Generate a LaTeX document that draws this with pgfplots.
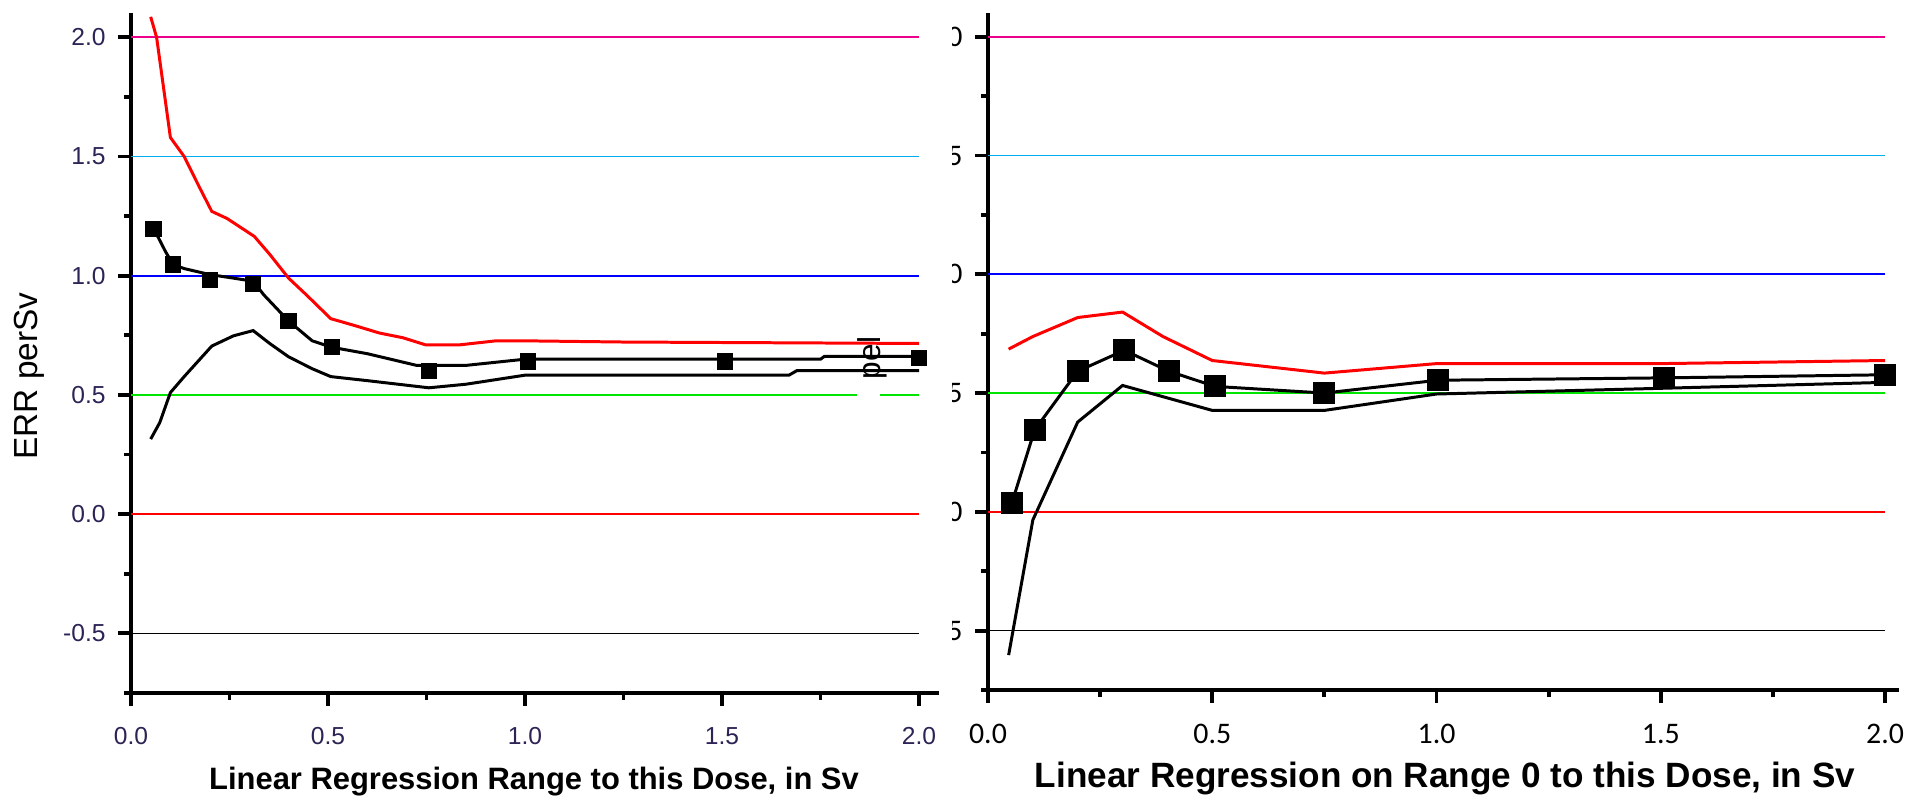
\documentclass[border=0pt]{standalone}
\usepackage{fontspec}
\setmainfont{Liberation Sans}
\newfontfamily\carlito{Carlito}
\usepackage{pgfplots}
\pgfplotsset{compat=1.18}
\definecolor{ticklab}{RGB}{45,35,85}
\definecolor{refgreen}{RGB}{0,230,0}
\pgfplotsset{
  panel/.style={
    scale only axis,
    axis x line*=bottom, axis y line*=left,
    axis line style={line width=1.1pt,-},
    tick align=outside,
    major tick length=1.3mm, minor tick length=0.7mm,
    every tick/.style={line width=1.1pt,black},
    xmin=0, ymin=-0.75, ymax=2.1,
    xtick={0,0.5,1,1.5,2},
    xticklabels={0.0,0.5,1.0,1.5,2.0},
    minor xtick={0.25,0.75,1.25,1.75},
    ytick={-0.5,0,0.5,1,1.5,2},
    yticklabels={-0.5,0.0,0.5,1.0,1.5,2.0},
    minor ytick={-0.75,-0.25,0.25,0.75,1.25,1.75},
  },
  refl/.style={line width=0.5pt},
}
\begin{document}
\begin{tikzpicture}
\path[use as bounding box] (0,0) rectangle (191.7mm,80mm);
% ---------------- right panel ----------------
\begin{axis}[panel,
  at={(98.8mm,11.0mm)}, anchor=south west,
  width=91.05mm, height=67.7mm, xmax=2.03,
  ticklabel style={font=\carlito\fontsize{8.5}{9}\selectfont, text=black},
  xticklabel style={yshift=-0.9mm},
]
\addplot[refl, magenta] coordinates {(0,2) (2,2)};
\addplot[refl, cyan] coordinates {(0,1.5) (2,1.5)};
\addplot[refl, blue] coordinates {(0,1) (2,1)};
\addplot[refl, refgreen] coordinates {(0,0.5) (2,0.5)};
\addplot[refl, red] coordinates {(0,0) (2,0)};
\addplot[refl, black] coordinates {(0,-0.5) (2,-0.5)};
\addplot[red, line width=0.85pt] coordinates {
(0.046,0.685) (0.10,0.738) (0.20,0.818) (0.30,0.841) (0.39,0.738) (0.50,0.637) (0.75,0.584) (1.0,0.624) (1.5,0.624) (2.0,0.637)};
\addplot[black, line width=0.85pt, mark=square*, mark size=0.95mm] coordinates {
(0.053,0.036) (0.104,0.345) (0.20,0.592) (0.304,0.68) (0.403,0.592) (0.506,0.528) (0.75,0.50) (1.003,0.554) (1.507,0.564) (2.0,0.577)};
\addplot[black, line width=0.85pt] coordinates {
(0.046,-0.603) (0.10,-0.034) (0.20,0.378) (0.30,0.532) (0.50,0.427) (0.75,0.427) (1.0,0.496) (1.5,0.52) (2.0,0.545)};
\end{axis}
% the right panel's tick labels are cut off by the left screenshot
\fill[white] (85mm,14mm) rectangle (95.2mm,80mm);
\node[anchor=base, font=\fontsize{10}{12}\selectfont\bfseries] at (144.5mm,1.2mm) {Linear Regression on Range 0 to this Dose, in Sv};
% ---------------- left panel ----------------
\begin{axis}[panel,
  at={(13.1mm,10.7mm)}, anchor=south west,
  width=80.77mm, height=67.95mm, xmax=2.05,
  ticklabel style={font=\fontsize{7}{8}\selectfont, text=ticklab},
  xticklabel style={yshift=-0.9mm},
]
\addplot[refl, magenta] coordinates {(0,2) (2,2)};
\addplot[refl, cyan] coordinates {(0,1.5) (2,1.5)};
\addplot[refl, blue] coordinates {(0,1) (2,1)};
\addplot[refl, refgreen] coordinates {(0,0.5) (2,0.5)};
\addplot[refl, red] coordinates {(0,0) (2,0)};
\addplot[refl, black] coordinates {(0,-0.5) (2,-0.5)};
\addplot[red, line width=0.85pt] coordinates {
(0.05,2.086) (0.065,2.0) (0.10,1.58) (0.135,1.50) (0.174,1.37) (0.205,1.27) (0.244,1.24) (0.313,1.165) (0.352,1.09) (0.40,0.99) (0.445,0.92) (0.507,0.82) (0.57,0.79) (0.63,0.76) (0.69,0.74) (0.748,0.71) (0.833,0.71) (0.926,0.727) (1.0,0.727) (1.25,0.722) (2.0,0.716)};
\addplot[black, line width=0.85pt] coordinates {
(0.057,1.20) (0.088,1.10) (0.107,1.047) (0.135,1.03) (0.20,1.005) (0.26,0.99) (0.31,0.977) (0.337,0.92) (0.40,0.81) (0.46,0.727) (0.51,0.70) (0.60,0.673) (0.725,0.624) (0.85,0.624) (1.0,0.65) (1.75,0.65) (1.76,0.662) (2.0,0.662)};
\addplot[only marks, mark=square*, mark size=0.75mm, black] coordinates {
(0.057,1.197) (0.107,1.047) (0.20,0.983) (0.31,0.966) (0.40,0.81) (0.51,0.70) (0.756,0.60) (1.007,0.64) (1.508,0.64) (2.0,0.656)};
\addplot[black, line width=0.85pt] coordinates {
(0.05,0.315) (0.073,0.384) (0.10,0.51) (0.135,0.577) (0.205,0.705) (0.26,0.748) (0.31,0.77) (0.352,0.716) (0.40,0.66) (0.46,0.61) (0.507,0.577) (0.60,0.56) (0.756,0.53) (0.85,0.545) (1.0,0.583) (1.67,0.583) (1.69,0.602) (2.0,0.602)};
\end{axis}
\node[rotate=90, font=\fontsize{9.5}{11}\selectfont] at (2.9mm,42.4mm) {ERR perSv};
\node[anchor=base, font=\fontsize{8.8}{10}\selectfont\bfseries] at (53.4mm,1.0mm) {Linear Regression Range to this Dose, in Sv};
% artefacts of the overlapping screenshot
\fill[white] (85.7mm,38.9mm) rectangle (88.0mm,41.1mm);
\node[rotate=90, font=\fontsize{9}{10}\selectfont, inner sep=0pt] at (87.2mm,44.2mm) {pel};
\end{tikzpicture}
\end{document}
